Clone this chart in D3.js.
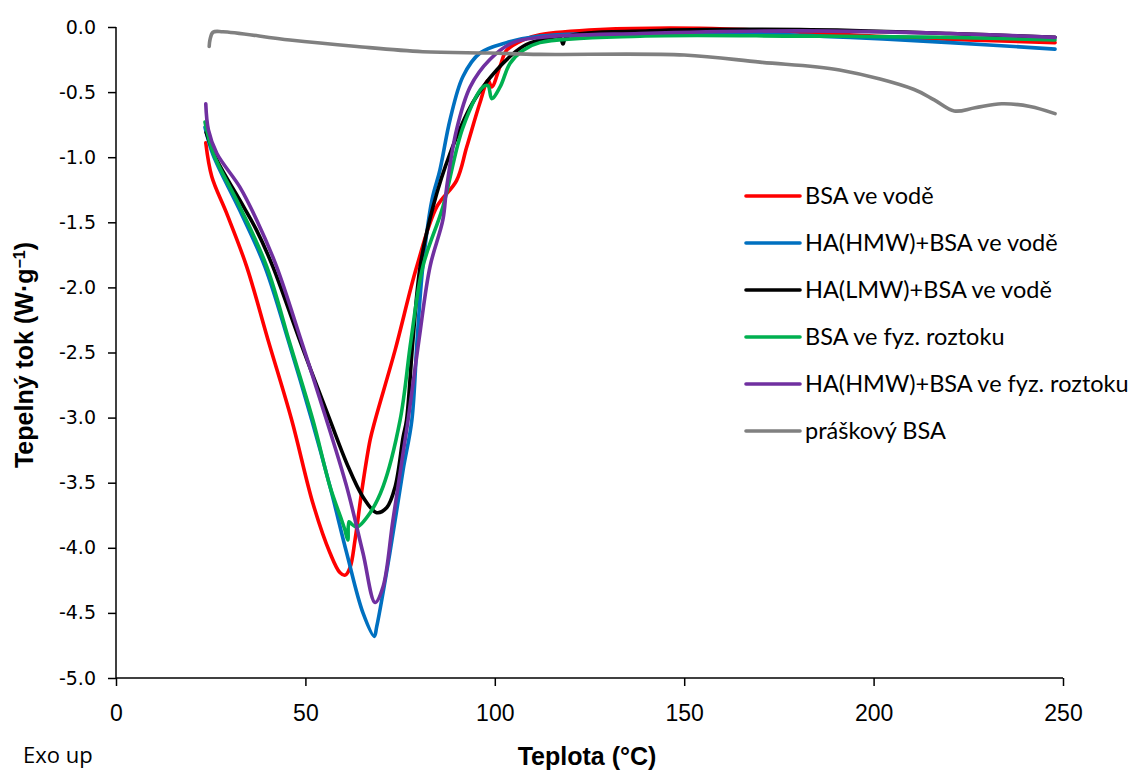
<!DOCTYPE html>
<html><head><meta charset="utf-8">
<script src="https://cdn.jsdelivr.net/npm/d3@7"></script>
<style>body{margin:0;background:#fff}svg{display:block}</style>
</head><body><div id="chart"></div>
<script>
// ---- data (temperature °C, heat flow W/g) ----
const seriesNames = ["BSA ve vodě","HA(HMW)+BSA ve vodě","HA(LMW)+BSA ve vodě","BSA ve fyz. roztoku","HA(HMW)+BSA ve fyz. roztoku","práškový BSA"];
const seriesColors = ["#FF0000","#0070C0","#000000","#00B050","#7030A0","#808080"];
const xTicks = [0,50,100,150,200,250];
const yTicks = [0,-0.5,-1,-1.5,-2,-2.5,-3,-3.5,-4,-4.5,-5];

const bsaVoda = [[23.7,-0.89],[25.3,-1.15],[29.2,-1.43],[34.5,-1.84],[40.1,-2.40],[46.4,-3.02],[52.0,-3.66],[56.5,-4.04],[59.1,-4.19],[60.5,-4.21],[61.8,-4.15],[63.1,-3.94],[64.9,-3.56],[67.1,-3.17],[68.4,-3.02],[73.7,-2.48],[79.4,-1.84],[84.7,-1.38],[89.9,-1.18],[92.6,-0.92],[96.1,-0.58],[98.2,-0.41],[99.2,-0.46],[101.4,-0.30],[103.1,-0.18],[107.4,-0.10],[111.9,-0.06],[127.8,-0.02],[154.2,-0.01],[180.6,-0.04],[207,-0.08],[247.9,-0.12]];
const hmwVoda = [[23.5,-0.77],[25.6,-0.98],[32.7,-1.41],[39.3,-1.84],[45.4,-2.40],[51.7,-3.02],[56.5,-3.53],[60.9,-4.04],[65.2,-4.50],[68.2,-4.68],[68.8,-4.61],[72.3,-4.04],[75.8,-3.40],[78.1,-3.02],[79.5,-2.40],[81.0,-1.84],[83.4,-1.33],[85.5,-1.10],[88.2,-0.71],[91.6,-0.38],[96.1,-0.20],[103.1,-0.12],[111.9,-0.07],[141,-0.04],[167.4,-0.05],[193.8,-0.08],[220.2,-0.12],[247.9,-0.17]];
const lmwVoda = [[23.8,-0.81],[26.6,-1.02],[32.7,-1.33],[37.1,-1.56],[41.4,-1.84],[48.8,-2.43],[56.5,-3.02],[60.9,-3.35],[65.2,-3.61],[68.8,-3.73],[71.5,-3.69],[73.7,-3.53],[75.8,-3.15],[76.7,-3.02],[78.4,-2.40],[80.3,-1.84],[83.7,-1.38],[88.2,-0.97],[94.2,-0.58],[100.5,-0.33],[107.4,-0.15],[111.9,-0.10],[117.2,-0.08],[118.0,-0.13],[118.8,-0.08],[141,-0.03],[180.6,-0.02],[220.2,-0.05],[247.9,-0.08]];
const bsaFyz = [[23.5,-0.73],[25.7,-0.97],[32.7,-1.38],[39.8,-1.84],[45.9,-2.43],[52.0,-3.02],[56.5,-3.53],[59.6,-3.79],[60.4,-3.86],[61.2,-3.94],[61.5,-3.80],[62.3,-3.82],[63.6,-3.84],[67.1,-3.73],[70.5,-3.53],[75.0,-3.02],[77.9,-2.40],[81.0,-1.84],[86.3,-1.38],[91.6,-0.77],[96.9,-0.46],[98.2,-0.45],[99.2,-0.55],[101.4,-0.46],[104.0,-0.28],[107.4,-0.18],[111.9,-0.12],[138.3,-0.07],[180.6,-0.07],[220.2,-0.08],[247.9,-0.10]];
const hmwFyz = [[23.7,-0.59],[24.4,-0.79],[26.6,-0.97],[32.7,-1.23],[37.1,-1.48],[42.4,-1.84],[48.8,-2.40],[55.6,-3.02],[60.9,-3.53],[65.2,-4.04],[68.4,-4.42],[70.5,-4.30],[73.1,-3.79],[75.8,-3.27],[77.1,-3.02],[80.0,-2.40],[82.9,-1.84],[86.3,-1.48],[87.3,-1.23],[89.9,-0.79],[93.5,-0.46],[98.7,-0.25],[104.8,-0.12],[111.9,-0.08],[138.3,-0.05],[180.6,-0.03],[220.2,-0.05],[247.9,-0.08]];
const praskovy = [[24.6,-0.15],[24.8,-0.10],[25.6,-0.04],[28.2,-0.036],[45.9,-0.10],[63.6,-0.15],[81.0,-0.19],[98.7,-0.20],[111.9,-0.21],[150,-0.215],[170,-0.27],[191,-0.33],[210.7,-0.48],[216,-0.56],[221.3,-0.645],[226.8,-0.62],[233.8,-0.59],[241.3,-0.61],[247.9,-0.665]];
const seriesData = [bsaVoda,hmwVoda,lmwVoda,bsaFyz,hmwFyz,praskovy];

// ---- layout ----
const W = 1136, H = 771;
const m = {left:116, top:27, right:1063, bottom:678};
const svg = d3.select("#chart").append("svg").attr("width",W).attr("height",H);
const x = d3.scaleLinear().domain([0,250]).range([m.left,m.right]);
const y = d3.scaleLinear().domain([-5,0]).range([m.bottom,m.top]);

// axes
const yAxis = svg.append("g").attr("transform",`translate(${m.left},0)`)
  .call(d3.axisLeft(y).tickValues(yTicks).tickSize(8).tickPadding(12).tickFormat(d=>d.toFixed(1)));
yAxis.selectAll("text").attr("font-family","'DejaVu Sans',Verdana,sans-serif").attr("font-size",19).attr("fill","#000");
const xAxis = svg.append("g").attr("transform",`translate(0,${m.bottom})`)
  .call(d3.axisBottom(x).tickValues(xTicks).tickSize(8).tickPadding(19).tickFormat(d3.format("d")));
xAxis.selectAll("text").attr("font-family","'Liberation Sans Narrow','Arial Narrow',sans-serif").attr("font-size",23).attr("fill","#000");
svg.selectAll(".tick line").attr("stroke","#000").attr("stroke-width",1.5);
svg.selectAll(".domain").remove();
svg.append("line").attr("x1",m.left).attr("x2",m.left).attr("y1",y(0)).attr("y2",y(-5)).attr("stroke","#000").attr("stroke-width",1.5);
svg.append("line").attr("x1",m.left).attr("x2",x(250)).attr("y1",m.bottom).attr("y2",m.bottom).attr("stroke","#000").attr("stroke-width",1.5);

// lines
const line = d3.line().x(d=>x(d[0])).y(d=>y(d[1])).curve(d3.curveCatmullRom.alpha(0.5));
seriesData.forEach((s,i)=>{
  svg.append("path").datum(s).attr("d",line).attr("fill","none")
    .attr("stroke",seriesColors[i]).attr("stroke-width",3.6)
    .attr("stroke-linejoin","round").attr("stroke-linecap","round");
});

// legend
const lg = svg.append("g");
seriesNames.forEach((n,i)=>{
  const yy = 196 + i*47;
  lg.append("line").attr("x1",746).attr("x2",800).attr("y1",yy).attr("y2",yy)
    .attr("stroke",seriesColors[i]).attr("stroke-width",3.6).attr("stroke-linecap","round");
  lg.append("text").attr("x",805).attr("y",yy).attr("dy","0.35em")
    .attr("font-family","Lato,'Open Sans',sans-serif").attr("font-size",23.5).attr("fill","#000").text(n);
});

// titles
svg.append("text").attr("transform","translate(33,355) rotate(-90)").attr("text-anchor","middle")
  .attr("font-family","'Liberation Sans Narrow','Arial Narrow',sans-serif").attr("font-weight","bold").attr("font-size",25)
  .call(t=>{ t.append("tspan").text("Tepelný tok (W·g");
             t.append("tspan").attr("baseline-shift","super").attr("font-size",16).text("−1");
             t.append("tspan").text(")"); });
svg.append("text").attr("x",587).attr("y",765).attr("text-anchor","middle")
  .attr("font-family","'Liberation Sans Narrow','Arial Narrow',sans-serif").attr("font-weight","bold").attr("font-size",25)
  .text("Teplota (°C)");
svg.append("text").attr("x",23).attr("y",763)
  .attr("font-family","'Open Sans','DejaVu Sans',sans-serif").attr("font-size",22).text("Exo up");
</script></body></html>
